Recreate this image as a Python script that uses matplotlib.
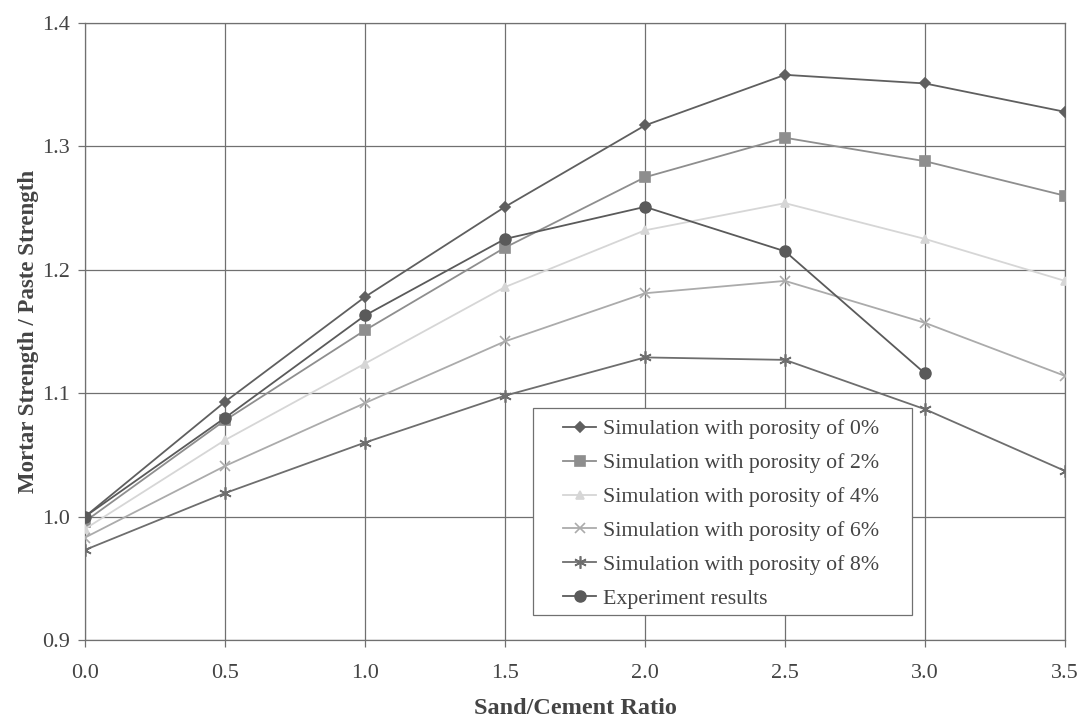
import matplotlib
matplotlib.use('Agg')
import matplotlib.pyplot as plt
from matplotlib.patches import Rectangle

# sand/cement ratio
ratio = [0.0, 0.5, 1.0, 1.5, 2.0, 2.5, 3.0, 3.5]

# simulation results, normalised by paste strength
por_0 = [1.000, 1.093, 1.178, 1.251, 1.317, 1.358, 1.351, 1.328]
por_2 = [0.996, 1.078, 1.151, 1.218, 1.275, 1.307, 1.288, 1.260]
por_4 = [0.990, 1.062, 1.124, 1.186, 1.232, 1.254, 1.225, 1.191]
por_6 = [0.983, 1.041, 1.092, 1.142, 1.181, 1.191, 1.157, 1.114]
por_8 = [0.973, 1.019, 1.060, 1.098, 1.129, 1.127, 1.087, 1.037]

exp_ratio = [0.0, 0.5, 1.0, 1.5, 2.0, 2.5, 3.0]
exp_vals = [1.000, 1.080, 1.163, 1.225, 1.251, 1.215, 1.116]

labels = ['Simulation with porosity of 0%',
          'Simulation with porosity of 2%',
          'Simulation with porosity of 4%',
          'Simulation with porosity of 6%',
          'Simulation with porosity of 8%',
          'Experiment results']

plt.rcParams['font.family'] = ['Liberation Serif', 'DejaVu Serif']

fig = plt.figure(figsize=(10.85, 7.23), dpi=100)
ax = fig.add_axes([0.0783, 0.1148, 0.9033, 0.8534])

series = [
    (por_0, 'D', '#5f5f5f', 5),
    (por_2, 's', '#8e8e8e', 7),
    (por_4, '^', '#d6d6d6', 6),
    (por_6, 'x', '#ababab', 7),
    (por_8, (6, 2, 0), '#6e6e6e', 9),
]
for (vals, mk, col, ms), lab in zip(series, labels[:5]):
    ax.plot(ratio, vals, color=col, marker=mk, markersize=ms, linewidth=1.3,
            markeredgewidth=1.2, label=lab, zorder=3)
ax.plot(exp_ratio, exp_vals, color='#5a5a5a', marker='o', markersize=8,
        linewidth=1.3, label=labels[5], zorder=4)

ax.set_xlim(0, 3.5)
ax.set_ylim(0.9, 1.4)
ax.set_xticks([0.0, 0.5, 1.0, 1.5, 2.0, 2.5, 3.0, 3.5])
ax.set_yticks([0.9, 1.0, 1.1, 1.2, 1.3, 1.4])
ax.xaxis.set_major_formatter(matplotlib.ticker.FormatStrFormatter('%.1f'))
ax.yaxis.set_major_formatter(matplotlib.ticker.FormatStrFormatter('%.1f'))
ax.grid(True, color='#707070', linewidth=0.9)
ax.set_axisbelow(True)
for s in ax.spines.values():
    s.set_color('#707070')
    s.set_linewidth(0.9)
ax.tick_params(direction='out', length=5, width=0.9, color='#707070',
               labelsize=16, labelcolor='#444444')
ax.tick_params(axis='x', pad=12)
ax.tick_params(axis='y', pad=6)

ax.set_xlabel('Sand/Cement Ratio', fontsize=17.5, fontweight='bold',
              color='#444444', labelpad=11)
ax.set_ylabel('Mortar Strength / Paste Strength', fontsize=16.5,
              fontweight='bold', color='#444444', labelpad=2)

# legend box drawn separately so the inner padding matches the original
box = Rectangle((0.457, 0.0405), 0.387, 0.3355, transform=ax.transAxes,
                facecolor='white', edgecolor='#707070', linewidth=0.9,
                zorder=5)
ax.add_patch(box)
leg = ax.legend(loc='upper left', bbox_to_anchor=(0.488, 0.358),
                fontsize=15.75, frameon=False, handlelength=1.5,
                handletextpad=0.3, borderpad=0, labelspacing=0.62,
                borderaxespad=0)
leg.set_zorder(6)
for t in leg.get_texts():
    t.set_color('#444444')

fig.savefig('out.png', dpi=100)
